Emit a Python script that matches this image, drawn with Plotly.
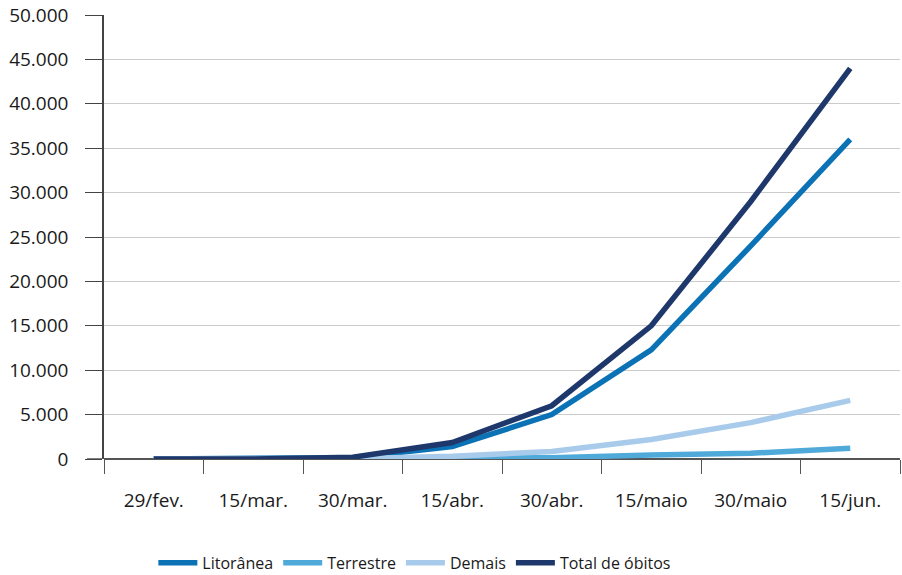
import plotly.graph_objects as go

# Datas de referência (eixo de categorias)
datas = ["29/fev.", "15/mar.", "30/mar.", "15/abr.", "30/abr.", "15/maio", "30/maio", "15/jun."]

# Óbitos acumulados por tipo de fronteira
litoranea = [0, 0, 150, 1400, 5000, 12300, 24000, 36000]
terrestre = [0, 0, 0, 30, 150, 450, 650, 1200]
demais = [0, 0, 20, 300, 850, 2200, 4100, 6600]
total_obitos = [0, 0, 200, 1850, 6000, 15000, 29000, 44000]

nomes = ["Litorânea", "Terrestre", "Demais", "Total de óbitos"]
series = [litoranea, terrestre, demais, total_obitos]
cores = ["#0b72b5", "#4fa9d9", "#a9cbeb", "#1f386c"]

y_ticks = list(range(0, 50001, 5000))

FONTE = "Open Sans"
COR_TEXTO = "#1a1a1a"

fig = go.Figure()
for nome, valores, cor in zip(nomes, series, cores):
    fig.add_trace(go.Scatter(
        x=datas, y=valores, name=nome, mode="lines",
        line=dict(color=cor, width=5.5),
        hoverinfo="skip",
    ))

fig.update_layout(
    width=902, height=575,
    margin=dict(l=104, r=2, t=15, b=116, autoexpand=False),
    paper_bgcolor="white", plot_bgcolor="white",
    separators=",.",
    font=dict(family=FONTE, size=19, color=COR_TEXTO),
    showlegend=True,
    legend=dict(
        orientation="h", x=0.062, xanchor="left",
        y=-0.234, yanchor="middle",
        font=dict(family=FONTE, size=16, color=COR_TEXTO),
        itemwidth=39, tracegroupgap=0,
    ),
)

fig.update_xaxes(
    type="category", range=[-0.5, 7.5],
    tickson="boundaries", ticks="outside", ticklen=14, tickwidth=1.3,
    tickcolor="#555555",
    showline=False, showgrid=False, zeroline=False,
    ticklabelstandoff=28, automargin=False,
    tickfont=dict(family=FONTE, size=19, color=COR_TEXTO),
)

fig.update_yaxes(
    range=[0, 50000], tickvals=y_ticks, tickformat=",d",
    ticks="outside", ticklen=17, tickwidth=1.3, tickcolor="#444444",
    showline=True, linecolor="#444444", linewidth=1.5,
    showgrid=True, gridcolor="#cccccc", gridwidth=1,
    zeroline=True, zerolinecolor="#555555", zerolinewidth=1.5,
    ticklabelstandoff=13, automargin=False,
    tickfont=dict(family=FONTE, size=19, color=COR_TEXTO),
)

# Linha de base prolongada até a marca do zero no eixo vertical
fig.add_shape(type="line", xref="paper", yref="y",
              x0=-17 / 796, x1=0, y0=0, y1=0,
              line=dict(color="#555555", width=1.5))

fig.write_html("out.html")
